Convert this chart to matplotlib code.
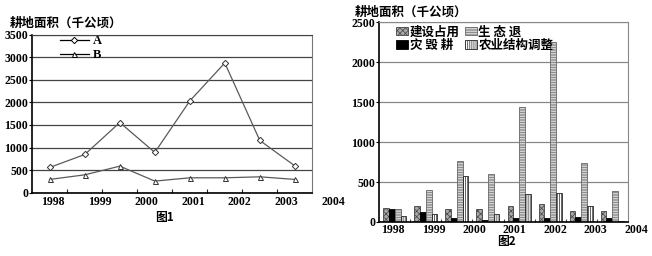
import matplotlib
matplotlib.use("Agg")
import matplotlib.pyplot as plt
import numpy as np
from matplotlib.lines import Line2D

plt.rcParams['font.family'] = ['Noto Sans CJK SC', 'DejaVu Sans']
plt.rcParams['hatch.linewidth'] = 0.5

# ---- data ----
year_labels = ['1998', '1999', '2000', '2001', '2002', '2003', '2004']
series_a = [560, 847, 1555, 892, 2033, 2874, 1157, 595]
series_b = [294, 396, 588, 257, 330, 330, 352, 294]

bar_names = ['建设占用', '灾 毁 耕', '生 态 退', '农业结构调整']
construction = [171, 200, 159, 159, 196, 225, 142, 138]
disaster = [159, 129, 54, 29, 50, 46, 58, 46]
ecology = [159, 397, 763, 597, 1434, 2252, 734, 388]
agri = [71, 104, 576, 104, 346, 367, 200, 9]

W, H = 652, 256
fig = plt.figure(figsize=(W / 100, H / 100), dpi=100)

num_font = dict(family='Liberation Serif', fontweight='bold', fontsize=8.5)
cjk_font = dict(family=['Noto Sans CJK SC', 'DejaVu Sans'], fontweight='bold')

# ---------------- Figure 1 ----------------
l1, r1, t1, b1 = 32.3, 312.3, 34.7, 192.7
ax1 = fig.add_axes([l1 / W, 1 - b1 / H, (r1 - l1) / W, (b1 - t1) / H])
x = np.arange(len(series_a))
ax1.plot(x, series_a, color='#5a5a5a', lw=0.9, marker='D', ms=3.2,
         mfc='white', mec='#333333', mew=0.7, label='A')
ax1.plot(x, series_b, color='#5a5a5a', lw=0.9, marker='^', ms=3.6,
         mfc='white', mec='#333333', mew=0.7, label='B')
ax1.set_xlim(-0.5, len(series_a) - 0.5)
ax1.set_ylim(0, 3500)
ax1.set_yticks(np.arange(0, 3501, 500))
ax1.set_yticklabels([str(v) for v in range(0, 3501, 500)], **num_font)
ax1.yaxis.grid(True, color='#444444', lw=0.9)
ax1.set_axisbelow(True)
ax1.set_xticks(np.arange(0.5, len(series_a) - 0.5, 1))
ax1.set_xticklabels([])
ax1.tick_params(axis='x', direction='in', length=3, width=0.8, color='#222222')
ax1.tick_params(axis='y', direction='out', length=2, width=0.8, pad=1)
for s in ['left', 'bottom']:
    ax1.spines[s].set_color('black')
    ax1.spines[s].set_linewidth(1.2)
ax1.spines['right'].set_color('#777777')
ax1.spines['top'].set_color('#444444')
for i, lab in enumerate(year_labels):
    xf = (53 - l1 + i * (333 - 53) / 6) / (r1 - l1)
    ax1.text(xf, -0.057, lab, transform=ax1.transAxes, ha='center', va='center',
             clip_on=False, **num_font)
handles1 = [Line2D([], [], color='black', lw=0.9, marker='D', ms=3.2, mfc='white',
                   mec='black', mew=0.7),
            Line2D([], [], color='black', lw=0.9, marker='^', ms=3.6, mfc='white',
                   mec='black', mew=0.7)]
ax1.legend(handles1, ['A', 'B'], loc='upper left', bbox_to_anchor=(0.099, 0.995),
           frameon=False, borderpad=0, borderaxespad=0,
           handlelength=2.3, handletextpad=0.3, labelspacing=0.15,
           prop=dict(family='Liberation Serif', weight='bold', size=9))
fig.text(10 / W, 1 - 23 / H, '耕地面积（千公顷）', ha='left', va='center', fontsize=9, **cjk_font)
fig.text(165 / W, 1 - 218 / H, '图1', ha='center', va='center', fontsize=8.5, **cjk_font)

# ---------------- Figure 2 ----------------
l2, r2, t2, b2 = 379.3, 627.7, 22.3, 222.0
ax2 = fig.add_axes([l2 / W, 1 - b2 / H, (r2 - l2) / W, (b2 - t2) / H])
g = np.arange(len(construction))
bw = 0.185
styles = [
    dict(facecolor='#a8a8a8', edgecolor='#444444', hatch='xxxxxx'),
    dict(facecolor='black', edgecolor='black'),
    dict(facecolor='#e8e8e8', edgecolor='#666666', hatch='----------'),
    dict(facecolor='white', edgecolor='#222222', hatch='||||||||'),
]
series = [construction, disaster, ecology, agri]
for k, (vals, st) in enumerate(zip(series, styles)):
    ax2.bar(g + (k - 1.5) * bw, vals, width=bw, linewidth=0.6, label=bar_names[k], **st)
ax2.set_xlim(-0.5, len(construction) - 0.5)
ax2.set_ylim(0, 2500)
ax2.set_yticks(np.arange(0, 2501, 500))
ax2.set_yticklabels([str(v) for v in range(0, 2501, 500)], **num_font)
ax2.yaxis.grid(True, color='#888888', lw=0.9)
ax2.set_axisbelow(True)
ax2.set_xticks(np.arange(0.5, len(construction) - 0.5, 1))
ax2.set_xticklabels([])
ax2.tick_params(axis='x', direction='in', length=2.5, width=0.8, color='#444444')
ax2.tick_params(axis='y', direction='out', length=2, width=0.8, pad=1)
for s in ['left', 'bottom']:
    ax2.spines[s].set_color('black')
    ax2.spines[s].set_linewidth(1.2)
ax2.spines['right'].set_color('#888888')
ax2.spines['top'].set_color('#888888')
for i, lab in enumerate(year_labels):
    xf = (393 - l2 + i * (636 - 393) / 6) / (r2 - l2)
    ax2.text(xf, -0.04, lab, transform=ax2.transAxes, ha='center', va='center',
             clip_on=False, **num_font)
ax2.legend(loc='upper left', bbox_to_anchor=(0.067, 0.985), ncol=2, frameon=False,
           borderpad=0, borderaxespad=0,
           handlelength=1.0, handleheight=0.7, handletextpad=0.1, columnspacing=0.4,
           labelspacing=0.05, prop=dict(family=['Noto Sans CJK SC', 'DejaVu Sans'],
                                        weight='bold', size=9))
fig.text(355 / W, 1 - 12 / H, '耕地面积（千公顷）', ha='left', va='center', fontsize=9, **cjk_font)
fig.text(507 / W, 1 - 241 / H, '图2', ha='center', va='center', fontsize=8.5, **cjk_font)

fig.savefig('out.png', dpi=100)
